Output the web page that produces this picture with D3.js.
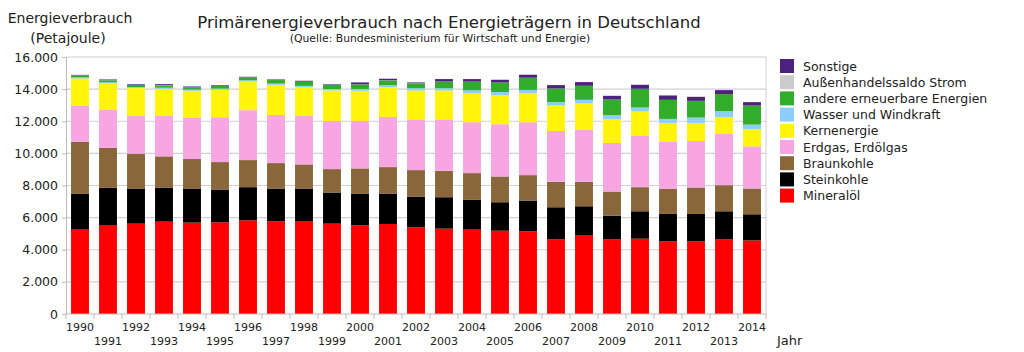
<!DOCTYPE html>
<html>
<head>
<meta charset="utf-8">
<script src="https://cdn.jsdelivr.net/npm/d3@7"></script>
<style>
	body { margin: 0; background: #fff; }
	text { font-family: "DejaVu Sans", sans-serif; fill: #222; }
</style>
</head>
<body>
<div class="chart"></div>
<script>
// years on the x axis
const years = [1990, 1991, 1992, 1993, 1994, 1995, 1996, 1997, 1998, 1999, 2000, 2001, 2002,
	2003, 2004, 2005, 2006, 2007, 2008, 2009, 2010, 2011, 2012, 2013, 2014];

// energy carriers, bottom to top
const carriers = ["Mineralöl", "Steinkohle", "Braunkohle", "Erdgas, Erdölgas", "Kernenergie",
	"Wasser und Windkraft", "andere erneuerbare Energien", "Außenhandelssaldo Strom", "Sonstige"];
const colors = ["#ff0000", "#000000", "#8a673b", "#f7a6e2", "#fff40a",
	"#8ccfff", "#31ad2b", "#cccccc", "#4c2180"];

// values in petajoule
const mineraloel = [5250, 5540, 5625, 5750, 5690, 5710, 5833, 5771, 5792, 5625, 5521, 5604, 5396,
	5313, 5250, 5188, 5146, 4646, 4917, 4646, 4688, 4521, 4521, 4646, 4583];
const steinkohle = [2250, 2310, 2190, 2125, 2125, 2040, 2063, 2042, 2021, 1938, 1979, 1896, 1917,
	1958, 1854, 1770, 1917, 2000, 1791, 1479, 1708, 1708, 1708, 1750, 1625];
const braunkohle = [3208, 2500, 2165, 1940, 1833, 1708, 1687, 1583, 1500, 1458, 1563, 1646, 1645,
	1646, 1667, 1605, 1583, 1583, 1521, 1500, 1500, 1563, 1646, 1625, 1605];
const erdgas = [2271, 2375, 2375, 2540, 2583, 2792, 3105, 3000, 3041, 3000, 2958, 3125, 3125,
	3166, 3167, 3250, 3292, 3167, 3229, 3021, 3187, 2916, 2896, 3187, 2625];
const kernenergie = [1688, 1645, 1710, 1665, 1667, 1708, 1791, 1875, 1771, 1896, 1875, 1854, 1834,
	1834, 1812, 1812, 1812, 1583, 1646, 1479, 1521, 1188, 1125, 1042, 1062];
const wasserWind = [60, 60, 65, 70, 70, 75, 70, 75, 80, 90, 110, 120, 140,
	140, 170, 190, 200, 209, 229, 250, 250, 250, 333, 375, 292];
const andereEE = [130, 120, 130, 150, 160, 170, 180, 220, 250, 260, 280, 300, 300,
	420, 550, 600, 760, 854, 875, 979, 1167, 1187, 1042, 1063, 1187];
const aussenhandel = [5, 10, 15, 15, 10, 15, 5, 5, 10, 10, 10, 10, 10,
	0, 0, 0, 0, 0, 0, 0, 0, 0, 0, 0, 0];
const sonstige = [25, 40, 40, 55, 30, 40, 35, 33, 56, 35, 121, 91, 50,
	148, 155, 168, 186, 208, 229, 229, 250, 271, 250, 250, 208];

const series = [mineraloel, steinkohle, braunkohle, erdgas, kernenergie,
	wasserWind, andereEE, aussenhandel, sonstige];

const yTicks = [0, 2000, 4000, 6000, 8000, 10000, 12000, 14000, 16000];

(function () {
	const widthSVG = 1024,
		heightSVG = 352;
	const left = 66, right = 766, top = 57, bottom = 314;

	const table = years.map(function (y, i) {
		const row = {year: y};
		carriers.forEach(function (c, k) { row[c] = series[k][i]; });
		return row;
	});
	const stacked = d3.stack().keys(carriers)(table);

	const svg = d3.select(".chart").append("svg")
		.attr("width", widthSVG)
		.attr("height", heightSVG);

	const x = d3.scaleBand().domain(years).range([left, right]).paddingInner(0.36).paddingOuter(0.18);
	const y = d3.scaleLinear().domain([0, 16000]).range([bottom, top]);

	// grid
	svg.append("g").selectAll("line")
		.data(yTicks.slice(1))
		.enter().append("line")
		.attr("x1", left).attr("x2", right)
		.attr("y1", function (d) { return y(d); })
		.attr("y2", function (d) { return y(d); })
		.attr("stroke", "#d0d0d0")
		.attr("stroke-width", 1.2);

	// bars
	svg.append("g").selectAll("g")
		.data(stacked)
		.enter().append("g")
		.attr("fill", function (d, i) { return colors[i]; })
		.selectAll("rect")
		.data(function (d) { return d; })
		.enter().append("rect")
		.attr("x", function (d) { return x(d.data.year); })
		.attr("width", x.bandwidth())
		.attr("y", function (d) { return y(d[1]); })
		.attr("height", function (d) { return Math.max(0, y(d[0]) - y(d[1])); });

	// y axis
	const yAxis = d3.axisLeft(y).tickValues(yTicks).tickSize(4).tickPadding(4)
		.tickFormat(function (d) { return d3.format(",")(d).replace(/,/g, "."); });
	const ya = svg.append("g")
		.attr("transform", "translate(" + left + ",0)")
		.call(yAxis);
	ya.select(".domain").attr("stroke", "#bbbbbb");
	ya.selectAll(".tick line").attr("stroke", "#bbbbbb");
	ya.selectAll("text").style("font-size", "12.5px").attr("fill", "#222");

	// x axis: ticks at band boundaries, labels staggered
	const step = x.step();
	const bounds = d3.range(years.length + 1).map(function (i) { return left + i * step; });
	svg.append("line")
		.attr("x1", left).attr("x2", right)
		.attr("y1", bottom).attr("y2", bottom)
		.attr("stroke", "#bbbbbb");
	svg.append("g").selectAll("line")
		.data(bounds)
		.enter().append("line")
		.attr("x1", function (d) { return d; })
		.attr("x2", function (d) { return d; })
		.attr("y1", bottom).attr("y2", bottom + 5)
		.attr("stroke", "#bbbbbb");
	svg.append("line")
		.attr("x1", right).attr("x2", right)
		.attr("y1", top).attr("y2", bottom)
		.attr("stroke", "#d0d0d0");
	svg.append("g").selectAll("text")
		.data(years)
		.enter().append("text")
		.attr("x", function (d) { return x(d) + x.bandwidth() / 2; })
		.attr("y", function (d, i) { return i % 2 === 0 ? 331 : 345; })
		.attr("text-anchor", "middle")
		.style("font-size", "11px")
		.text(function (d) { return d; });

	svg.append("text")
		.attr("x", 777).attr("y", 345)
		.style("font-size", "13px")
		.text("Jahr");

	// titles
	svg.append("text")
		.attr("x", 70).attr("y", 23)
		.attr("text-anchor", "middle")
		.style("font-size", "14px")
		.text("Energieverbrauch");
	svg.append("text")
		.attr("x", 68).attr("y", 43)
		.attr("text-anchor", "middle")
		.style("font-size", "14px")
		.text("(Petajoule)");
	svg.append("text")
		.attr("x", 449).attr("y", 28)
		.attr("text-anchor", "middle")
		.style("font-size", "16.5px")
		.text("Primärenergieverbrauch nach Energieträgern in Deutschland");
	svg.append("text")
		.attr("x", 440).attr("y", 42)
		.attr("text-anchor", "middle")
		.style("font-size", "10.8px")
		.text("(Quelle: Bundesministerium für Wirtschaft und Energie)");

	// legend, top entry first
	const legend = svg.append("g").selectAll("g")
		.data(carriers.slice().reverse())
		.enter().append("g")
		.attr("transform", function (d, i) { return "translate(780," + (59 + i * 16.2) + ")"; });
	legend.append("rect")
		.attr("width", 14).attr("height", 14)
		.attr("fill", function (d) { return colors[carriers.indexOf(d)]; });
	legend.append("text")
		.attr("x", 23).attr("y", 11.5)
		.style("font-size", "12.5px")
		.text(function (d) { return d; });
}());
</script>
</body>
</html>
